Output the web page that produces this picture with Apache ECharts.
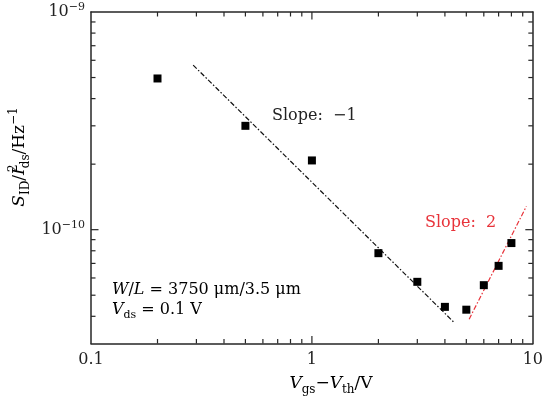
<!DOCTYPE html>
<html>
<head>
<meta charset="utf-8">
<script src="https://cdn.jsdelivr.net/npm/echarts@6/dist/echarts.min.js"></script>
<style>html,body{margin:0;padding:0;background:#fff}#c{width:546px;height:405px}</style>
</head>
<body>
<div id="c"></div>
<script>
// ---- data ----
var xVals = [0.2, 0.5, 1, 2, 3, 4, 5, 6, 7, 8];
var yVals = [4.95e-10, 3.0e-10, 2.08e-10, 7.8e-11, 5.76e-11, 4.42e-11, 4.29e-11, 5.56e-11, 6.82e-11, 8.68e-11];
var fitNegX = [0.29, 4.4];
var fitNegY = [5.7e-10, 3.75e-11];
var fitPosX = [5.15, 9.35];
var fitPosY = [3.88e-11, 1.28e-10];
var xTickLabels = ['0.1', '1', '10'];
var yTickExps = ['−10', '−9'];
var xTicks = [0.2,0.3,0.4,0.5,0.6,0.7,0.8,0.9,1,2,3,4,5,6,7,8,9];
var yTicks = [4e-11,5e-11,6e-11,7e-11,8e-11,9e-11,1e-10,2e-10,3e-10,4e-10,5e-10,6e-10,7e-10,8e-10,9e-10];
var xMin = 0.1, xMax = 10, yMin = 3e-11, yMax = 1e-9;

var FONT = 'DejaVu Serif';
var AX = '#262626';
var RED = '#e8333a';

function zip(a, b) { return a.map(function (v, i) { return [v, b[i]]; }); }
function isPow10(v) { var l = Math.log10(v); return Math.abs(l - Math.round(l)) < 1e-6; }

var chart = echarts.init(document.getElementById('c'));

var baseRich = {
  n: {fontFamily: FONT, fontSize: 17, color: '#222', lineHeight: 24},
  i: {fontFamily: FONT, fontSize: 17, fontStyle: 'italic', color: '#222', lineHeight: 24},
  sub: {fontFamily: FONT, fontSize: 12, color: '#222', lineHeight: 13, verticalAlign: 'bottom'},
  sup: {fontFamily: FONT, fontSize: 12, color: '#222', lineHeight: 13, verticalAlign: 'top'},
  sup0: {fontFamily: FONT, fontSize: 12, color: '#222', lineHeight: 13, verticalAlign: 'top', width: 0.01}
};
var annRich = {
  n: {fontFamily: FONT, fontSize: 16, color: '#222', lineHeight: 22},
  i: {fontFamily: FONT, fontSize: 16, fontStyle: 'italic', color: '#222', lineHeight: 22},
  sub: {fontFamily: FONT, fontSize: 11, color: '#222', lineHeight: 12, verticalAlign: 'bottom'}
};

function axisCommon() {
  return {
    axisLine: {show: true, lineStyle: {color: AX, width: 1.5}},
    axisTick: {show: false},
    splitLine: {show: false},
    axisLabel: {show: false}
  };
}

var textEls = [
  {type: 'text', x: 20, y: 157, rotation: Math.PI / 2, silent: true, z: 10,
   style: {text: '{i|S}{sub|ID}{n|/}{i|I}{sup0|2}{sub|ds}{n|/Hz}{sup|−1}', rich: baseRich, align: 'center', verticalAlign: 'middle'}},
  {type: 'text', x: 331, y: 384, silent: true, z: 10,
   style: {text: '{i|V}{sub|gs}{n|−}{i|V}{sub|th}{n|/V}', rich: baseRich, align: 'center', verticalAlign: 'middle'}},
  {type: 'text', x: 272, y: 116, silent: true, z: 10,
   style: {text: 'Slope:  −1', fontFamily: FONT, fontSize: 16, fill: '#222', align: 'left', verticalAlign: 'middle'}},
  {type: 'text', x: 425, y: 223, silent: true, z: 10,
   style: {text: 'Slope:  2', fontFamily: FONT, fontSize: 16, fill: RED, align: 'left', verticalAlign: 'middle'}},
  {type: 'text', x: 112, y: 290, silent: true, z: 10,
   style: {text: '{i|W}{n|/}{i|L}{n| = 3750 μm/3.5 μm}', rich: annRich, align: 'left', verticalAlign: 'middle'}},
  {type: 'text', x: 112, y: 310, silent: true, z: 10,
   style: {text: '{i|V}{sub|ds}{n| = 0.1 V}', rich: annRich, align: 'left', verticalAlign: 'middle'}}
];

var option = {
  animation: false,
  grid: {left: 91, right: 13, top: 12, bottom: 61.5},
  xAxis: [
    Object.assign({type: 'log', min: xMin, max: xMax, position: 'bottom'}, axisCommon(), {
      axisLabel: {show: true, margin: 8, fontFamily: FONT, fontSize: 16, color: '#222',
        formatter: function (v) { return xTickLabels[Math.round(Math.log10(v)) + 1]; }}
    }),
    Object.assign({type: 'log', min: xMin, max: xMax, position: 'top'}, axisCommon())
  ],
  yAxis: [
    Object.assign({type: 'log', min: yMin, max: yMax, position: 'left'}, axisCommon(), {
      axisLabel: {show: true, margin: 6, showMinLabel: false,
        formatter: function (v) {
          var e = Math.round(Math.log10(v));
          var s = yTickExps[e + 10];
          return s ? '{b|10}{s|' + s + '}' : '';
        },
        rich: {
          b: {fontFamily: FONT, fontSize: 16, color: '#222', lineHeight: 20},
          s: {fontFamily: FONT, fontSize: 11, color: '#222', lineHeight: 11, verticalAlign: 'top'}
        }
      }
    }),
    Object.assign({type: 'log', min: yMin, max: yMax, position: 'right'}, axisCommon())
  ],
  series: [
    {
      type: 'line', data: zip(fitNegX, fitNegY), symbol: 'none',
      lineStyle: {color: '#111', width: 1.2, type: [5, 2, 1.5, 2]}, z: 3
    },
    {
      type: 'line', data: zip(fitPosX, fitPosY), symbol: 'none',
      lineStyle: {color: RED, width: 1.2, type: [5, 2, 1.5, 2]}, z: 3
    },
    {
      type: 'scatter', data: zip(xVals, yVals), symbol: 'rect', symbolSize: 8,
      itemStyle: {color: '#000', opacity: 1}, z: 4
    }
  ]
};
chart.setOption(option);

// ticks placed through the chart's own log scales
var tickEls = [];
function tickLine(x1, y1, x2, y2) {
  tickEls.push({type: 'line', silent: true, z: 5,
    shape: {x1: x1, y1: y1, x2: x2, y2: y2},
    style: {stroke: AX, lineWidth: 1.2}});
}
xTicks.forEach(function (v) {
  var L = isPow10(v) ? 7.5 : 4.5;
  var b = chart.convertToPixel({gridIndex: 0}, [v, yMin]);
  var t = chart.convertToPixel({gridIndex: 0}, [v, yMax]);
  tickLine(b[0], b[1], b[0], b[1] - L);
  tickLine(t[0], t[1], t[0], t[1] + L);
});
yTicks.forEach(function (v) {
  var L = isPow10(v) ? 7.5 : 4.5;
  var l = chart.convertToPixel({gridIndex: 0}, [xMin, v]);
  var r = chart.convertToPixel({gridIndex: 0}, [xMax, v]);
  tickLine(l[0], l[1], l[0] + L, l[1]);
  tickLine(r[0], r[1], r[0] - L, r[1]);
});

chart.setOption({graphic: tickEls.concat(textEls)});
</script>
</body>
</html>
